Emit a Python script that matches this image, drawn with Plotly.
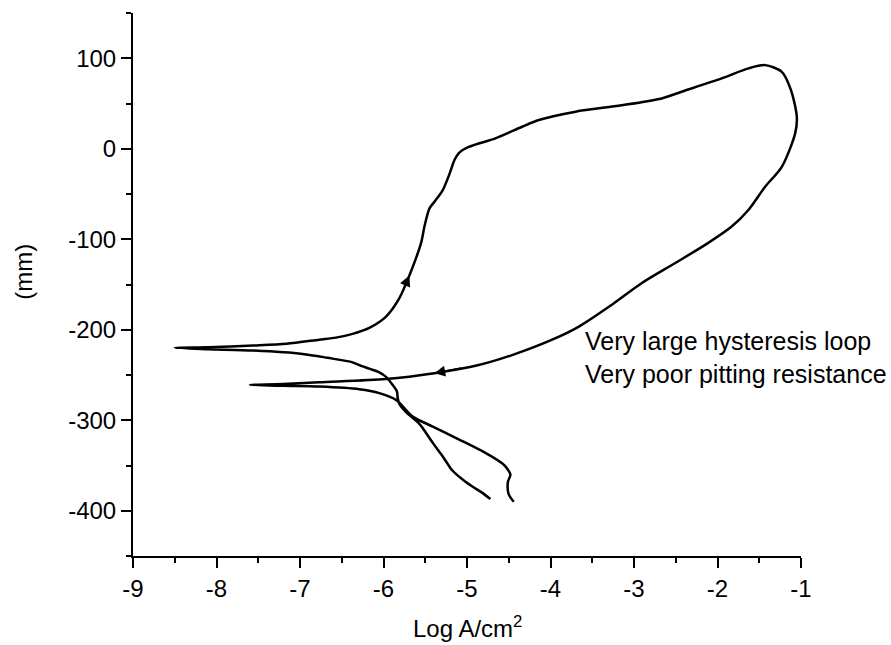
import plotly.graph_objects as go

# Cyclic polarization curve (log current density vs potential)
log_i = [
    -4.72, -4.82, -4.94, -5.06, -5.18, -5.29, -5.41, -5.57, -5.73, -5.81, -5.83, -5.84,
    -5.89, -5.97, -6.05, -6.17, -6.29, -6.37, -6.67, -6.97, -7.56, -8.10, -8.50,
    -8.10, -7.56, -7.16, -6.77, -6.57, -6.37, -6.17, -5.97, -5.81, -5.69, -5.55, -5.51,
    -5.45, -5.39, -5.29, -5.21, -5.15, -5.10, -4.98, -4.66, -4.34, -4.14, -3.70, -3.15,
    -2.67, -2.43, -1.95, -1.63, -1.43, -1.23, -1.12, -1.05, -1.07, -1.23, -1.43, -1.63,
    -1.83, -2.11, -2.51, -2.91, -3.26, -3.66, -3.98, -4.46, -4.86, -5.39, -5.97, -6.77,
    -7.20, -7.60,
    -7.20, -6.77, -6.29, -6.05, -5.85, -5.65, -5.41, -5.10, -4.78, -4.58, -4.54, -4.48,
    -4.51, -4.50, -4.44,
]
potential = [
    -387, -380, -373, -365, -355, -340, -325, -304, -291, -282, -275, -268,
    -261, -252, -247, -243, -239, -236, -231, -226.7, -223, -221.5, -220,
    -219.3, -217.5, -215.6, -211, -208.7, -204.6, -198, -185.5, -165, -140, -104, -86,
    -66, -58.5, -45.6, -28, -12.5, -5, 2, 11.5, 24.3, 31.7, 41, 48,
    55.6, 63, 77.7, 88.8, 92.4, 85, 64.8, 35, 17, -20, -42, -67.7,
    -86, -104, -126.5, -148.6, -172, -196.5, -211, -228, -239, -248, -254.5, -258,
    -260, -261,
    -262, -262.8, -265.7, -270, -277.5, -296, -307, -321, -336, -347.5, -351, -360,
    -368, -382, -390,
]

# direction arrows (tail -> head) along the curve
arrow_tail_x = [-5.76, -5.05]
arrow_tail_y = [-155, -242]
arrow_head_x = [-5.69, -5.39]
arrow_head_y = [-140, -248]

x_ticks = [-9, -8, -7, -6, -5, -4, -3, -2, -1]
x_tick_text = ["-9", "-8", "-7", "-6", "-5", "-4", "-3", "-2", "-1"]
y_ticks = [-400, -300, -200, -100, 0, 100]
y_tick_text = ["-400", "-300", "-200", "-100", "0", "100"]

note_lines = ["Very large hysteresis loop", "Very poor pitting resistance"]

FONT = "Liberation Sans"
FS = 24

fig = go.Figure()
fig.add_trace(go.Scatter(
    x=log_i, y=potential, mode="lines",
    line=dict(color="black", width=2.5, shape="spline", smoothing=0.8),
    showlegend=False, hoverinfo="skip",
))

for tx, ty, hx, hy in zip(arrow_tail_x, arrow_tail_y, arrow_head_x, arrow_head_y):
    fig.add_annotation(
        x=hx, y=hy, ax=tx, ay=ty, xref="x", yref="y", axref="x", ayref="y",
        text="", showarrow=True, arrowhead=2, arrowsize=1.2, arrowwidth=1.8,
        arrowcolor="black", standoff=0, startstandoff=0,
    )

fig.add_annotation(
    x=-3.61, y=-231, xref="x", yref="y", xanchor="left", yanchor="middle",
    align="left", showarrow=False, text="<br>".join(note_lines),
    font=dict(family=FONT, size=25, color="black"),
)

# axis titles
fig.add_annotation(
    x=-0.165, y=0.523, xref="paper", yref="paper", text="(mm)", textangle=-90,
    showarrow=False, xanchor="center", yanchor="middle",
    font=dict(family=FONT, size=FS, color="black"),
)
fig.add_annotation(
    x=0.5, y=-0.131, xref="paper", yref="paper", text="Log A/cm<sup>2</sup>",
    showarrow=False, xanchor="center", yanchor="middle",
    font=dict(family=FONT, size=FS, color="black"),
)

axis_common = dict(
    showline=True, linecolor="black", linewidth=2, mirror=False,
    ticks="outside", ticklen=10, tickwidth=2, tickcolor="black",
    showgrid=False, zeroline=False,
    tickfont=dict(family=FONT, size=FS, color="black"),
)

fig.update_xaxes(
    range=[-9, -1], tickvals=x_ticks, ticktext=x_tick_text,
    minor=dict(dtick=0.5, tick0=-9, ticks="outside", ticklen=5, tickwidth=2,
               tickcolor="black", showgrid=False),
    **axis_common,
)
fig.update_yaxes(
    range=[-450, 150], tickvals=y_ticks, ticktext=y_tick_text,
    minor=dict(dtick=50, tick0=0, ticks="outside", ticklen=5, tickwidth=2,
               tickcolor="black", showgrid=False),
    **axis_common,
)

fig.update_layout(
    width=891, height=645,
    margin=dict(l=133, r=90, t=13, b=89),
    paper_bgcolor="white", plot_bgcolor="white",
    font=dict(family=FONT, size=FS, color="black"),
)

fig.write_html("out.html")
